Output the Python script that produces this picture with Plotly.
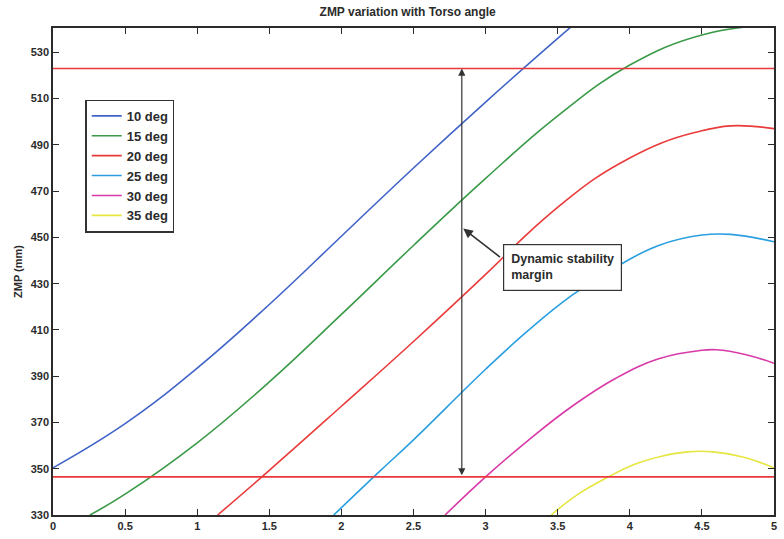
import plotly.graph_objects as go

# ---------------- data ----------------
series_names = ["10 deg", "15 deg", "20 deg", "25 deg", "30 deg", "35 deg"]
series_colors = ["#4063c8", "#3a9a48", "#ea3b3b", "#2a9fe0", "#d83aa8", "#e6e640"]

x_10 = [0, 0.5, 1.0, 1.5, 2.0, 2.5, 3.0, 3.5, 3.8]
y_10 = [350.4, 369.5, 393.5, 421.0, 450.5, 480.0, 508.5, 536.0, 552.0]

x_15 = [0.256, 0.5, 1.0, 1.5, 2.0, 2.5, 3.0, 3.5, 4.0, 4.5, 5.0]
y_15 = [330, 339.0, 361.2, 387.5, 416.7, 446.5, 475.5, 502.5, 524.5, 537.5, 542.0]

x_20 = [1.142, 1.5, 2.0, 2.5, 3.0, 3.29, 3.52, 3.76, 3.99, 4.22, 4.45, 4.7, 5.0]
y_20 = [330, 349.3, 377.0, 405.0, 434.0, 451.5, 464.0, 475.5, 484.0, 490.8, 495.3, 498.2, 497.0]

x_25 = [1.947, 2.25, 2.5, 3.0, 3.3, 3.6, 3.9, 4.2, 4.5, 4.7, 5.0]
y_25 = [330, 348.0, 362.5, 393.0, 410.0, 425.0, 437.0, 446.5, 451.0, 451.3, 448.1]

x_30 = [2.719, 3.0, 3.3, 3.6, 3.9, 4.2, 4.5, 4.6, 4.8, 5.0]
y_30 = [330, 346.5, 362.5, 377.0, 389.0, 397.5, 401.2, 401.4, 399.4, 395.6]

x_35 = [3.455, 3.64, 3.85, 4.03, 4.22, 4.4, 4.58, 4.79, 5.0]
y_35 = [330, 338.9, 346.4, 351.8, 355.4, 357.3, 357.3, 355.0, 350.4]

series_x = [x_10, x_15, x_20, x_25, x_30, x_35]
series_y = [y_10, y_15, y_20, y_25, y_30, y_35]

limit_upper = 523.0
limit_lower = 346.5
margin_x = 2.835
callout_tip = (2.845, 453.8)
callout_tail = (3.11, 441.0)
callout_text = "Dynamic stability<br>margin"

x_ticks = [0, 0.5, 1, 1.5, 2, 2.5, 3, 3.5, 4, 4.5, 5]
x_ticktext = ["0", "0.5", "1", "1.5", "2", "2.5", "3", "3.5", "4", "4.5", "5"]
y_ticks = [330, 350, 370, 390, 410, 430, 450, 470, 490, 510, 530]

# ---------------- figure ----------------
FONT = "Liberation Sans Narrow, Arial Narrow, Liberation Sans, Arial, sans-serif"
INK = "#2b2b2b"

fig = go.Figure()
for name, col, xs, ys in zip(series_names, series_colors, series_x, series_y):
    fig.add_trace(go.Scatter(x=xs, y=ys, mode="lines", name=name,
                             line=dict(color=col, width=1.6, shape="spline", smoothing=1.2)))

# stability limits
for yv in (limit_upper, limit_lower):
    fig.add_trace(go.Scatter(x=[0, 5], y=[yv, yv], mode="lines", showlegend=False,
                             line=dict(color="#e8383a", width=1.6)))

# double headed arrow for margin
fig.add_annotation(x=margin_x, y=limit_upper, ax=margin_x, ay=limit_lower,
                   xref="x", yref="y", axref="x", ayref="y", text="",
                   showarrow=True, arrowhead=2, startarrowhead=2, arrowside="end+start",
                   arrowsize=1.2, arrowwidth=1.2, arrowcolor="#333333")
# callout arrow
fig.add_annotation(x=callout_tip[0], y=callout_tip[1], ax=callout_tail[0], ay=callout_tail[1],
                   xref="x", yref="y", axref="x", ayref="y", text="",
                   showarrow=True, arrowhead=2, arrowsize=1.2, arrowwidth=1.6,
                   arrowcolor="#333333")
# callout text box
fig.add_annotation(x=3.12, y=437.0, xref="x", yref="y", text=callout_text,
                   showarrow=False, xanchor="left", yanchor="middle", align="left",
                   font=dict(family=FONT, size=12.5, color=INK, weight="bold"),
                   bordercolor="#333333", borderwidth=1.2, borderpad=7, bgcolor="white")

axis_common = dict(showline=True, linecolor=INK, linewidth=1.5, mirror="ticks",
                   ticks="inside", ticklen=6, tickwidth=1.3, tickcolor=INK,
                   showgrid=False, zeroline=False,
                   tickfont=dict(family=FONT, size=11, color=INK, weight="bold"))

fig.update_layout(
    width=784, height=539,
    margin=dict(l=53, r=7, t=28, b=22),
    paper_bgcolor="white", plot_bgcolor="white",
    title=dict(text="ZMP variation with Torso angle", x=0.52, xanchor="center",
               y=0.978, yanchor="middle",
               font=dict(family=FONT, size=12, color=INK, weight="bold")),
    xaxis=dict(range=[0, 5], tickvals=x_ticks, ticktext=x_ticktext, **axis_common),
    yaxis=dict(range=[330, 540.5], tickvals=y_ticks,
               title=dict(text="ZMP (mm)", standoff=6,
                          font=dict(family=FONT, size=11, color=INK, weight="bold")),
               **axis_common),
    legend=dict(x=0.045, y=0.853, xanchor="left", yanchor="top",
                bordercolor="#333333", borderwidth=1.3, bgcolor="white",
                itemwidth=30, tracegroupgap=0,
                font=dict(family=FONT, size=13, color=INK, weight="bold")),
    showlegend=True,
)

fig.write_html("out.html")
